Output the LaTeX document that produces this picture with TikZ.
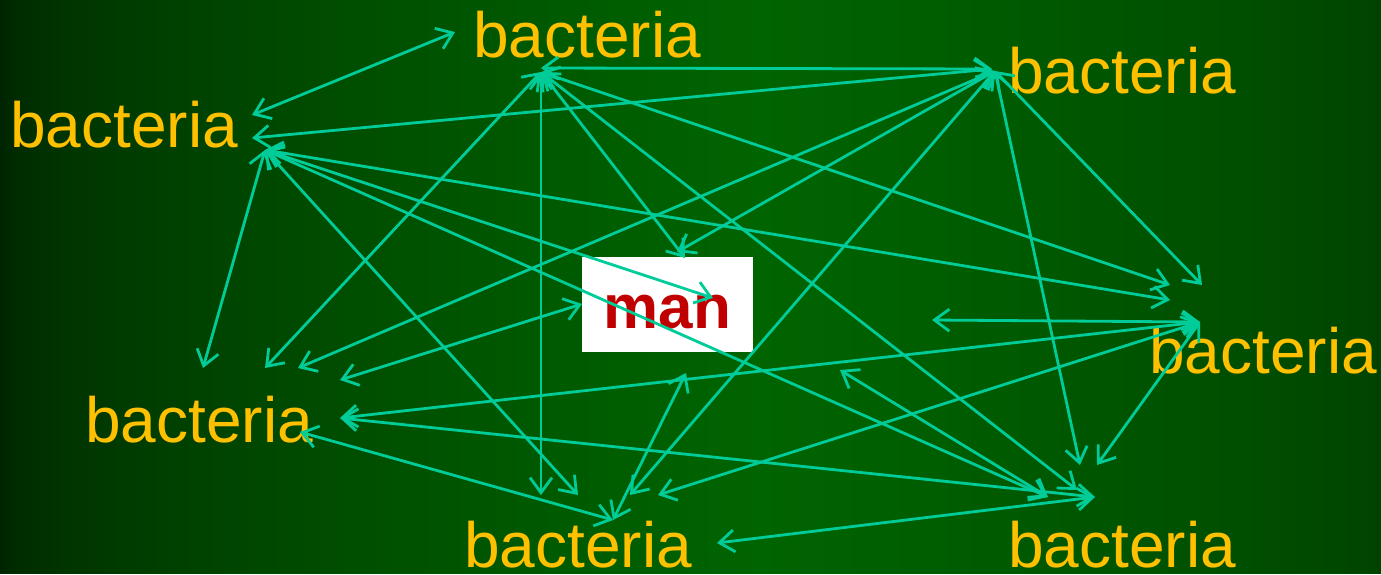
\documentclass[tikz,border=0pt]{standalone}
\usepackage{fontspec}
\setmainfont{Liberation Sans}
\usetikzlibrary{arrows.meta}
\definecolor{bgleft}{RGB}{0,36,0}
\definecolor{bgmid}{RGB}{0,100,0}
\definecolor{bgright}{RGB}{0,66,0}
\definecolor{linkgreen}{RGB}{0,204,153}
\definecolor{germgold}{RGB}{255,192,0}
\definecolor{manred}{RGB}{192,0,0}

\begin{document}
\begin{tikzpicture}[x=1pt,y=-1pt,
  germ/.style={anchor=base west, inner sep=0pt, text=germgold,
    font=\fontsize{64}{70}\selectfont},
  hostbox/.style={fill=white, inner sep=0pt, minimum width=171pt,
    minimum height=95pt, text height=47pt, text depth=0pt, text=manred,
    font=\fontsize{62}{70}\selectfont\bfseries},
  >={Straight Barb[length=15pt,width=22pt]},
  link/.style={draw=linkgreen, line width=2.8pt, <->}]

\useasboundingbox (0,0) rectangle (1381,574);
% background: vertical strips, dark at the left edge, brightest near the middle
\foreach \sx in {0,4,...,1380}{
  \ifdim\sx pt<760pt
    \pgfmathsetmacro{\mixp}{100*(\sx/760)^0.55}
    \colorlet{stripcol}{bgmid!\mixp!bgleft}
  \else
    \pgfmathsetmacro{\mixp}{100*((1381-\sx)/621)^0.7}
    \colorlet{stripcol}{bgmid!\mixp!bgright}
  \fi
  \fill[stripcol] (\sx,0) rectangle (\sx+5,574);
}

% labels
\node[germ] (bTop) at (473,57) {bacteria};
\node[germ] (bTR)  at (1008,93) {bacteria};
\node[germ] (bL)   at (10,147) {bacteria};
\node[germ] (bR)   at (1149,373) {bacteria};
\node[germ] (bBL)  at (85,442) {bacteria};
\node[germ] (bB)   at (464,567) {bacteria};
\node[germ] (bBR)  at (1008,567) {bacteria};
\node[hostbox] (man) at (667.5,304.5) {man};

% arrow end points
\coordinate (tA) at (541,68);   \coordinate (tB) at (541,72);
\coordinate (rA) at (992,69);   \coordinate (rB) at (995,71);
\coordinate (lA) at (252,138);  \coordinate (lB) at (265,150);
\coordinate (qA) at (252,115);  \coordinate (qB) at (455,32);
\coordinate (eA) at (1200,322); \coordinate (eB) at (1170,285);
\coordinate (eC) at (1170,300); \coordinate (eD) at (1202,285);
\coordinate (sA) at (1095,497); \coordinate (sB) at (1048,497);
\coordinate (sC) at (1077,490); \coordinate (sD) at (1080,465);
\coordinate (sE) at (1097,465);
\coordinate (bA) at (613,520);  \coordinate (bBb) at (630,495);
\coordinate (bC) at (658,495);  \coordinate (bD) at (578,495);
\coordinate (bE) at (541,495);  \coordinate (bF) at (717,543);
\coordinate (wA) at (300,432);  \coordinate (wB) at (340,418);
\coordinate (wC) at (340,380);  \coordinate (wD) at (298,368);
\coordinate (wE) at (265,368);  \coordinate (wF) at (203,368);
\coordinate (mTop1) at (685,258); \coordinate (mTop2) at (677,252);
\coordinate (mIn) at (713,298);   \coordinate (mLeft) at (582,304);
\coordinate (mBot) at (686,373);
\coordinate (fA) at (932,320);  \coordinate (fB) at (840,370);

% links
\draw[link] (qA) -- (qB);
\draw[link] (tA) -- (rA);
\draw[link] (rA) -- (lA);
\draw[link] (lB) -- (wF);
\draw[link] (lB) -- (bD);
\draw[link] (lB) -- (eC);
\draw[link] (lB) -- (mIn);
\draw[link] (lB) -- (sB);
\draw[link] (tB) -- (bE);
\draw[link] (tB) -- (wE);
\draw[link] (tB) -- (mTop1);
\draw[link] (tB) -- (eB);
\draw[link] (tB) -- (sC);
\draw[link] (rB) -- (wD);
\draw[link] (rB) -- (mTop2);
\draw[link] (rB) -- (bBb);
\draw[link] (rB) -- (sD);
\draw[link] (rB) -- (eD);
\draw[link] (wC) -- (mLeft);
\draw[link] (eA) -- (fA);
\draw[link] (eA) -- (wB);
\draw[link] (eA) -- (bC);
\draw[link] (eA) -- (sE);
\draw[link] (wA) -- (bA);
\draw[link] (bA) -- (mBot);
\draw[link] (bF) -- (sA);
\draw[link] (fB) -- (sB);
\draw[link] (wB) -- (sA);
\end{tikzpicture}
\end{document}
